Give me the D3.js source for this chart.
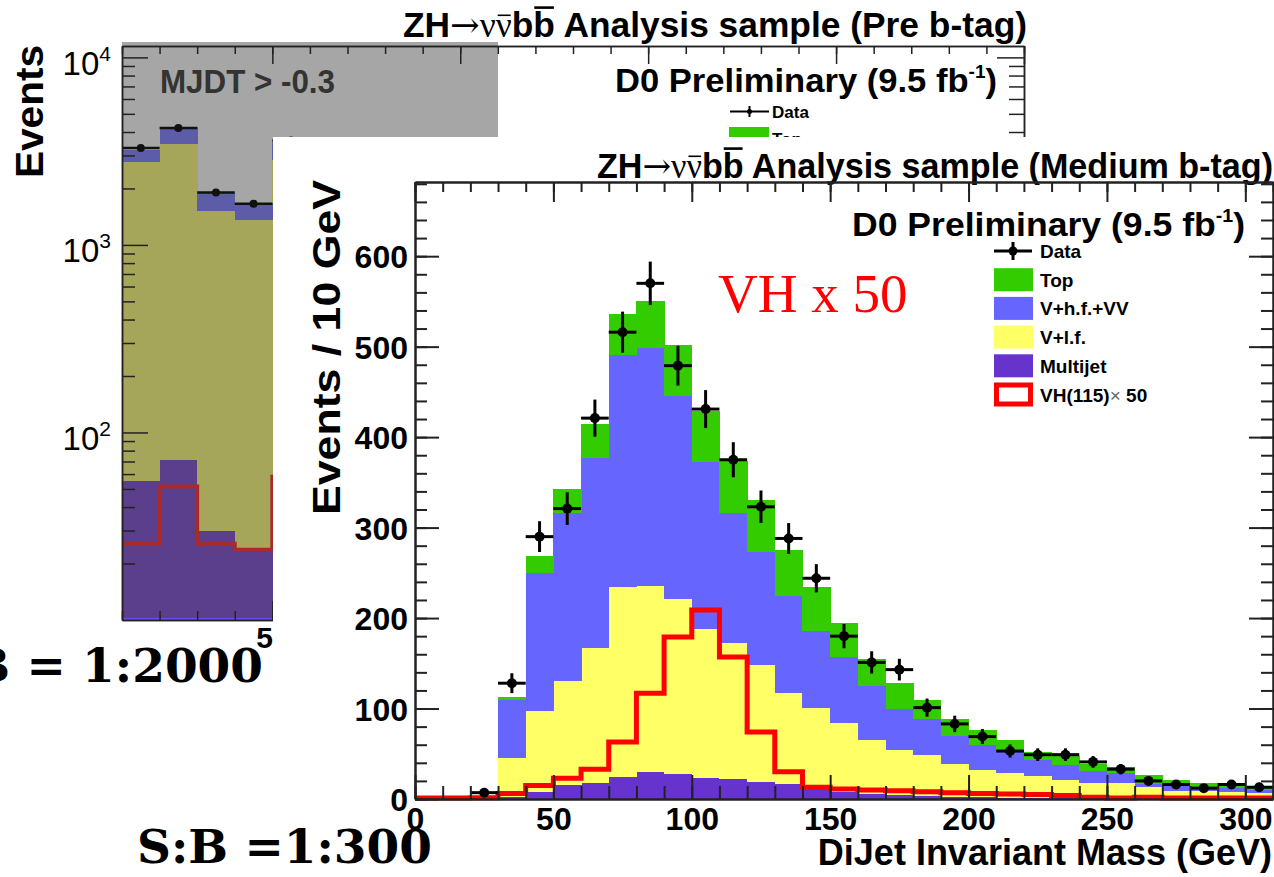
<!DOCTYPE html>
<html>
<head>
<meta charset="utf-8">
<script src="https://cdn.jsdelivr.net/npm/d3@7"></script>
<style>
  html, body { margin: 0; padding: 0; background: #fff; overflow: hidden; }
  svg { display: block; }
</style>
</head>
<body>
<svg id="chart" width="1274" height="877" font-family="Liberation Sans, Arial, Helvetica, sans-serif"></svg>
<script>
// ---------------- Pre b-tag sample (log scale), visible low-mass bins ----------------
const preBinLow     = [10, 20, 30, 40, 50];
const preMultijet   = [55, 71, 30, 24, 57];
const preVlf        = [2705, 3399, 1487, 1328, 2793];
const preVhf        = [430, 720, 353, 288, 670];
const preTop        = [30, 40, 30, 30, 40];
const preData       = [3290, 4200, 1905, 1660, 3600];
const preDataErr    = [57, 65, 44, 41, 60];
const preSignal     = [25.5, 51.5, 25.5, 23.7, 58];
const preYLabels    = [100, 1000, 10000];
const preXLabels    = [50, 100, 150, 200, 250];

// ---------------- Medium b-tag sample, 10 GeV bins ----------------
const binLow   = [0, 10, 20, 30, 40, 50, 60, 70, 80, 90, 100, 110, 120, 130, 140, 150,
                  160, 170, 180, 190, 200, 210, 220, 230, 240, 250, 260, 270, 280, 290, 300];
const multijet = [0, 0, 0, 2, 8, 16, 18, 24, 30, 28, 23, 22, 19, 17, 12, 8,
                  5, 4, 3, 2, 2, 1.5, 1, 1, 0.5, 0.5, 0.5, 0.3, 0.3, 0.3, 0.3];
const vlf      = [0, 0, 1, 43, 89, 114, 149, 210, 205, 193, 165, 150, 129, 100, 89, 76,
                  60, 50, 46, 37, 30, 27, 24, 20, 17, 17, 13, 9, 8, 7, 6];
const vhf      = [0, 0, 1, 64, 153, 186, 210, 257, 263, 225, 184, 144, 125, 107, 85, 73,
                  60, 46, 39, 31, 28, 24, 18, 17, 13, 11, 3.5, 4.6, 4.5, 4.5, 4];
const topQuark = [0, 0, 0.3, 4, 19, 27, 37, 45, 52, 56, 57, 58, 57, 51, 48, 38,
                  30, 28, 21, 18, 16, 13, 9, 9, 8, 7, 9.5, 7.4, 5, 5, 3.6];
const dataCounts = [null, null, 7, 128, 290, 321, 421, 516, 570, 479, 431, 375, 323, 288, 244, 180,
                  151, 143, 101, 83, 69, 53, 49, 49, 41, 33, 20, 16, 12, 16, 13];
const dataErr  = [0, 0, 2.6, 11, 17, 18, 20.5, 22.7, 24, 22, 21, 19.4, 18, 17, 15.6, 13.4,
                  12.3, 12, 10, 9.1, 8.3, 7.3, 7, 7, 6.4, 5.7, 4.5, 4, 3.5, 4, 3.6];
const signalX50 = [1, 1, 1.5, 6, 15, 23, 33, 63, 117, 179, 209, 157, 74, 30, 13, 11,
                  10, 9, 8, 7, 6, 5.5, 5, 4, 2, 1, 2, 1, 1, 1, 1];
const xTickLabels = [0, 50, 100, 150, 200, 250, 300];
const yTickLabels = [0, 100, 200, 300, 400, 500, 600];
const legendLabels = ["Data", "Top", "V+h.f.+VV", "V+l.f.", "Multijet", "VH(115)"];

const BIN = 10;
const SANS = "Liberation Sans, Arial, Helvetica, sans-serif";
const SERIF = "Liberation Serif, Times New Roman, serif";
const keys = ["multijet", "vlf", "vhf", "top"];
const frontColors = { multijet: "#6633cc", vlf: "#ffff66", vhf: "#6666ff", top: "#33cc00" };
const preColors   = { multijet: "#5b3f8c", vlf: "#a6a65b", vhf: "#5c5ca8", top: "#2d8c2d" };

const svg = d3.select("#chart");

function styleAxis(g, color, width) {
  g.select(".domain").attr("stroke", color).attr("stroke-width", width);
  g.selectAll(".tick line").attr("stroke", color).attr("stroke-width", width);
}

function titleText(g, x, y, size, length, tail) {
  const t = g.append("text").attr("x", x).attr("y", y).attr("font-family", SANS)
    .attr("font-size", size).attr("font-weight", "bold")
    .attr("textLength", length).attr("lengthAdjust", "spacingAndGlyphs");
  t.append("tspan").text("ZH");
  t.append("tspan").attr("font-family", "DejaVu Serif, serif").attr("font-weight", "normal")
    .text("\u2192");
  t.append("tspan").attr("font-family", SERIF).attr("font-weight", "normal")
    .text("\u03bd\u03bd");
  t.append("tspan").text("bb" + tail);
  // bars over the anti-neutrino and the anti-b
  const node = t.node();
  const nu = node.getExtentOfChar(4);
  const b = node.getExtentOfChar(6);
  g.append("line").attr("x1", nu.x + 2).attr("x2", nu.x + nu.width - 1)
    .attr("y1", y - size * 0.62).attr("y2", y - size * 0.62)
    .attr("stroke", "#000").attr("stroke-width", 1.6);
  g.append("line").attr("x1", b.x + 1).attr("x2", b.x + b.width - 1)
    .attr("y1", y - size * 0.84).attr("y2", y - size * 0.84)
    .attr("stroke", "#000").attr("stroke-width", 2.6);
}

function lumiText(g, x, y, size, length) {
  const t = g.append("text").attr("x", x).attr("y", y).attr("font-family", SANS)
    .attr("font-size", size).attr("font-weight", "bold")
    .attr("textLength", length).attr("lengthAdjust", "spacingAndGlyphs");
  t.append("tspan").text("D0 Preliminary (9.5 fb");
  t.append("tspan").attr("font-size", size * 0.55).attr("dy", -size * 0.42).text("-1");
  t.append("tspan").attr("dy", size * 0.42).text(")");
}

// =====================================================================
// Pre b-tag panel (partly hidden behind the medium b-tag panel)
// =====================================================================
const back = svg.append("g");
const xb = d3.scaleLinear().domain([10, 250]).range([122, 1024]);
const yb = d3.scaleLog().domain([10, 11500]).range([620, 46]);

titleText(back, 403, 37, 35, 624, " Analysis sample (Pre b-tag)");

back.append("rect").attr("x", 122).attr("y", 42).attr("width", 376).attr("height", 578)
  .attr("fill", "#a6a6a6");

const preRows = preBinLow.map((lo, i) => ({
  lo, multijet: preMultijet[i], vlf: preVlf[i], vhf: preVhf[i], top: preTop[i]
}));
const preStack = d3.stack().keys(keys)(preRows);
preStack.forEach(layer => {
  back.append("g").selectAll("rect").data(layer).join("rect")
    .attr("x", d => xb(d.data.lo))
    .attr("width", d => xb(d.data.lo + BIN) - xb(d.data.lo) + 0.5)
    .attr("y", d => yb(d[1]))
    .attr("height", d => yb(Math.max(d[0], 10)) - yb(d[1]))
    .attr("fill", preColors[layer.key])
    .attr("shape-rendering", "crispEdges");
});

// signal outline
const stepPoints = (lows, vals) => lows.flatMap((lo, i) => [[lo, vals[i]], [lo + BIN, vals[i]]]);
back.append("path")
  .datum(stepPoints(preBinLow, preSignal))
  .attr("d", d3.line().x(d => xb(d[0])).y(d => yb(d[1])))
  .attr("fill", "none").attr("stroke", "#a82a2a").attr("stroke-width", 4);

// data
const preDataG = back.append("g");
preBinLow.forEach((lo, i) => {
  const cx = xb(lo + BIN / 2), cy = yb(preData[i]);
  preDataG.append("line").attr("x1", xb(lo)).attr("x2", xb(lo + BIN)).attr("y1", cy).attr("y2", cy)
    .attr("stroke", "#111").attr("stroke-width", 2.5);
  preDataG.append("line").attr("x1", cx).attr("x2", cx)
    .attr("y1", yb(preData[i] + preDataErr[i])).attr("y2", yb(preData[i] - preDataErr[i]))
    .attr("stroke", "#111").attr("stroke-width", 2);
  preDataG.append("circle").attr("cx", cx).attr("cy", cy).attr("r", 4).attr("fill", "#111");
});

// bright edge under the histogram
back.append("line").attr("x1", 122).attr("x2", 498).attr("y1", 619).attr("y2", 619)
  .attr("stroke", "#6a4cff").attr("stroke-width", 2);

// axes
const preMinorX = d3.range(10, 251, 10);
const preMinorY = yb.ticks().filter(v => Math.abs(Math.log10(v) - Math.round(Math.log10(v))) > 1e-6);
const axisCol = "#222";

let g = back.append("g").attr("transform", "translate(0,620)")
  .call(d3.axisBottom(xb).tickValues(preMinorX).tickSizeInner(-9).tickSizeOuter(0).tickFormat(""));
styleAxis(g, axisCol, 1.5);
g = back.append("g").attr("transform", "translate(0,620)")
  .call(d3.axisBottom(xb).tickValues(preXLabels).tickSizeInner(-19).tickSizeOuter(0).tickPadding(7)
    .tickFormat(d3.format("d")));
styleAxis(g, axisCol, 1.5);
g.selectAll("text").attr("font-size", 30).attr("font-weight", "bold").attr("fill", "#000")
  .attr("font-family", SANS);

g = back.append("g").attr("transform", "translate(0,46)")
  .call(d3.axisTop(xb).tickValues(preMinorX).tickSizeInner(-8).tickSizeOuter(0).tickFormat(""));
styleAxis(g, axisCol, 1.5);
g = back.append("g").attr("transform", "translate(0,46)")
  .call(d3.axisTop(xb).tickValues(preXLabels).tickSizeInner(-18).tickSizeOuter(0).tickFormat(""));
styleAxis(g, axisCol, 1.5);

g = back.append("g").attr("transform", "translate(122,0)")
  .call(d3.axisLeft(yb).tickValues(preMinorY).tickSizeInner(-13).tickSizeOuter(0).tickFormat(""));
styleAxis(g, axisCol, 1.5);
g = back.append("g").attr("transform", "translate(122,0)")
  .call(d3.axisLeft(yb).tickValues(preYLabels).tickSizeInner(-26).tickSizeOuter(0).tickFormat(""));
styleAxis(g, axisCol, 1.5);
g.selectAll(".tick").append("text")
  .attr("x", -11).attr("y", 17).attr("text-anchor", "end").attr("fill", "#000")
  .attr("font-family", SANS).attr("font-size", 33)
  .each(function (d) {
    const t = d3.select(this);
    t.append("tspan").text("10");
    t.append("tspan").attr("font-size", 21).attr("dy", -14).text(Math.round(Math.log10(d)));
  });

g = back.append("g").attr("transform", "translate(1024,0)")
  .call(d3.axisLeft(yb).tickValues(preMinorY).tickSizeInner(15).tickSizeOuter(0).tickFormat(""));
styleAxis(g, axisCol, 1.5);
g = back.append("g").attr("transform", "translate(1024,0)")
  .call(d3.axisLeft(yb).tickValues(preYLabels).tickSizeInner(27).tickSizeOuter(0).tickFormat(""));
styleAxis(g, axisCol, 1.5);

back.append("text").attr("x", 160).attr("y", 93).attr("font-size", 34).attr("font-weight", "bold")
  .attr("fill", "#333").attr("textLength", 175).attr("lengthAdjust", "spacingAndGlyphs")
  .text("MJDT > -0.3");

lumiText(back, 615, 92, 34, 382);

// legend (upper part)
back.append("line").attr("x1", 730).attr("x2", 769).attr("y1", 111.5).attr("y2", 111.5)
  .attr("stroke", "#000").attr("stroke-width", 2);
back.append("line").attr("x1", 749.5).attr("x2", 749.5).attr("y1", 106).attr("y2", 117)
  .attr("stroke", "#000").attr("stroke-width", 2);
back.append("circle").attr("cx", 749.5).attr("cy", 111.5).attr("r", 2.5).attr("fill", "#000");
back.append("text").attr("x", 772).attr("y", 118).attr("font-size", 17).attr("font-weight", "bold")
  .text(legendLabels[0]);
back.append("rect").attr("x", 729).attr("y", 127).attr("width", 40).attr("height", 18)
  .attr("fill", frontColors.top);
back.append("text").attr("x", 772).attr("y", 145).attr("font-size", 17).attr("font-weight", "bold")
  .text(legendLabels[1]);

back.append("text").attr("transform", "translate(43,178) rotate(-90)")
  .attr("font-size", 39).attr("font-weight", "bold")
  .attr("textLength", 133).attr("lengthAdjust", "spacingAndGlyphs").text("Events");

// =====================================================================
// Medium b-tag panel
// =====================================================================
svg.append("rect").attr("x", 273).attr("y", 137).attr("width", 1001).attr("height", 740)
  .attr("fill", "#fff");

const front = svg.append("g");
const x = d3.scaleLinear().domain([0, 310]).range([415, 1273]);
const y = d3.scaleLinear().domain([0, 682]).range([799, 182]);

titleText(front, 597, 178, 35, 676, " Analysis sample (Medium b-tag)");

const rows = binLow.map((lo, i) => ({
  lo, multijet: multijet[i], vlf: vlf[i], vhf: vhf[i], top: topQuark[i]
}));
const stack = d3.stack().keys(keys)(rows);
stack.forEach(layer => {
  front.append("g").selectAll("rect").data(layer).join("rect")
    .attr("x", d => x(d.data.lo))
    .attr("width", d => x(d.data.lo + BIN) - x(d.data.lo) + 0.5)
    .attr("y", d => y(d[1]))
    .attr("height", d => Math.max(0, y(d[0]) - y(d[1])))
    .attr("fill", frontColors[layer.key])
    .attr("shape-rendering", "crispEdges");
});

front.append("path")
  .datum(stepPoints(binLow, signalX50))
  .attr("d", d3.line().x(d => x(d[0])).y(d => y(d[1])))
  .attr("fill", "none").attr("stroke", "#ff0000").attr("stroke-width", 5)
  .attr("stroke-linejoin", "miter");

const dataG = front.append("g");
binLow.forEach((lo, i) => {
  const v = dataCounts[i];
  if (v === null) return;
  const cx = x(lo + BIN / 2), cy = y(v);
  dataG.append("line").attr("x1", x(lo)).attr("x2", x(lo + BIN)).attr("y1", cy).attr("y2", cy)
    .attr("stroke", "#000").attr("stroke-width", 3);
  dataG.append("line").attr("x1", cx).attr("x2", cx)
    .attr("y1", y(v + dataErr[i])).attr("y2", y(Math.max(0, v - dataErr[i])))
    .attr("stroke", "#000").attr("stroke-width", 3);
  dataG.append("circle").attr("cx", cx).attr("cy", cy).attr("r", 5).attr("fill", "#000");
});

// axes and frame
const minorX = d3.range(0, 311, 10);
const minorY = d3.range(0, 682, 20);
const fCol = "#222";

g = front.append("g").attr("transform", "translate(0,799)")
  .call(d3.axisBottom(x).tickValues(minorX).tickSizeInner(-13).tickSizeOuter(0).tickFormat(""));
styleAxis(g, fCol, 2);
g = front.append("g").attr("transform", "translate(0,799)")
  .call(d3.axisBottom(x).tickValues(xTickLabels).tickSizeInner(-24).tickSizeOuter(0).tickPadding(8)
    .tickFormat(d3.format("d")));
styleAxis(g, fCol, 2);
g.selectAll("text").attr("font-size", 32).attr("font-weight", "bold").attr("fill", "#000")
  .attr("font-family", SANS);

g = front.append("g").attr("transform", "translate(0,182)")
  .call(d3.axisTop(x).tickValues(minorX).tickSizeInner(-10).tickSizeOuter(0).tickFormat(""));
styleAxis(g, fCol, 2);
g = front.append("g").attr("transform", "translate(0,182)")
  .call(d3.axisTop(x).tickValues(xTickLabels).tickSizeInner(-20).tickSizeOuter(0).tickFormat(""));
styleAxis(g, fCol, 2);

g = front.append("g").attr("transform", "translate(415,0)")
  .call(d3.axisLeft(y).tickValues(minorY).tickSizeInner(-12).tickSizeOuter(0).tickFormat(""));
styleAxis(g, fCol, 2);
g = front.append("g").attr("transform", "translate(415,0)")
  .call(d3.axisLeft(y).tickValues(yTickLabels).tickSizeInner(-24).tickSizeOuter(0).tickPadding(7)
    .tickFormat(d3.format("d")));
styleAxis(g, fCol, 2);
g.selectAll("text").attr("font-size", 32).attr("font-weight", "bold").attr("fill", "#000")
  .attr("font-family", SANS).attr("dy", "0.36em");

g = front.append("g").attr("transform", "translate(1273,0)")
  .call(d3.axisLeft(y).tickValues(minorY).tickSizeInner(12).tickSizeOuter(0).tickFormat(""));
styleAxis(g, fCol, 2);
g = front.append("g").attr("transform", "translate(1273,0)")
  .call(d3.axisLeft(y).tickValues(yTickLabels).tickSizeInner(24).tickSizeOuter(0).tickFormat(""));
styleAxis(g, fCol, 2);

lumiText(front, 852, 236, 34, 393);

// legend
const rowY = [251, 279.7, 308.4, 337.1, 365.8, 394.5];
const legendFill = [null, frontColors.top, frontColors.vhf, frontColors.vlf, frontColors.multijet, null];
const lg = front.append("g");
rowY.forEach((ry, i) => {
  if (i === 0) {
    lg.append("line").attr("x1", 994).attr("x2", 1032).attr("y1", ry).attr("y2", ry)
      .attr("stroke", "#000").attr("stroke-width", 3);
    lg.append("line").attr("x1", 1013).attr("x2", 1013).attr("y1", ry - 9).attr("y2", ry + 9)
      .attr("stroke", "#000").attr("stroke-width", 3);
    lg.append("circle").attr("cx", 1013).attr("cy", ry).attr("r", 4.5).attr("fill", "#000");
  } else if (i === 5) {
    lg.append("rect").attr("x", 996.5).attr("y", ry - 9.5).attr("width", 34).attr("height", 19)
      .attr("fill", "#fff").attr("stroke", "#ff0000").attr("stroke-width", 5);
  } else {
    lg.append("rect").attr("x", 994).attr("y", ry - 11.5).attr("width", 39).attr("height", 23)
      .attr("fill", legendFill[i]);
  }
  const t = lg.append("text").attr("x", 1040).attr("y", ry + 7).attr("font-size", 19)
    .attr("font-weight", "bold").text(legendLabels[i]);
  if (i === 5) {
    t.append("tspan").attr("font-weight", "normal").attr("fill", "#666").text("\u00d7 ");
    t.append("tspan").text(" 50");
  }
});

front.append("text").attr("transform", "translate(340,515) rotate(-90)")
  .attr("font-size", 38).attr("font-weight", "bold")
  .attr("textLength", 335).attr("lengthAdjust", "spacingAndGlyphs").text("Events / 10 GeV");

front.append("text").attr("x", 1272).attr("y", 865).attr("text-anchor", "end")
  .attr("font-size", 36).attr("font-weight", "bold").text("DiJet Invariant Mass (GeV)");

front.append("text").attr("x", 718).attr("y", 312)
  .attr("font-family", SERIF).attr("font-size", 55)
  .attr("fill", "#ff0000").text("VH x 50");

// signal-to-background annotations
svg.append("text").attr("x", 263).attr("y", 682).attr("text-anchor", "end")
  .attr("font-family", "DejaVu Serif, serif").attr("font-weight", "bold").attr("font-size", 47)
  .text("S:B = 1:2000");
svg.append("text").attr("x", 137).attr("y", 863)
  .attr("font-family", "DejaVu Serif, serif").attr("font-weight", "bold").attr("font-size", 47)
  .text("S:B =1:300");
</script>
</body>
</html>
